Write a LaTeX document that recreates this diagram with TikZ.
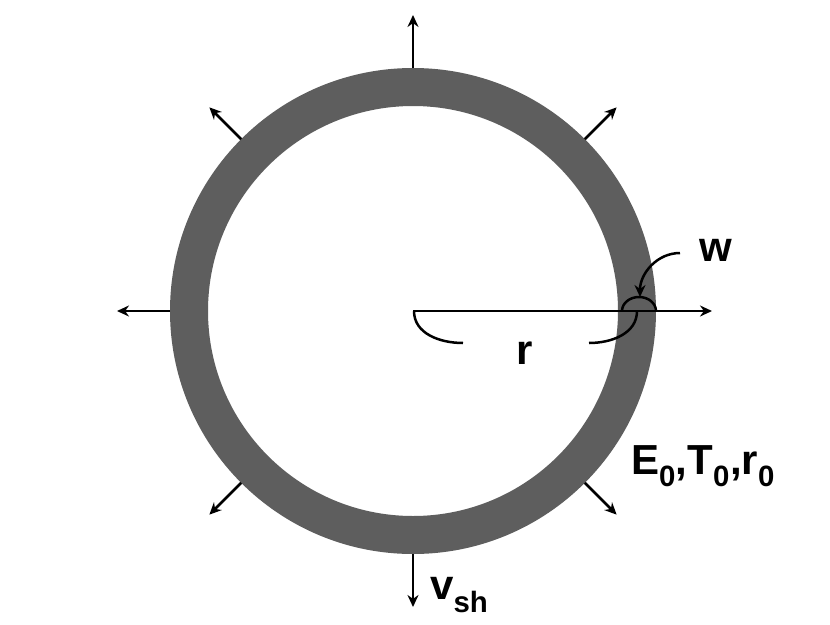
\documentclass[tikz,border=0pt]{standalone}
\usepackage{fontspec}
\setmainfont{Liberation Sans}
\usetikzlibrary{arrows.meta,calc}
\definecolor{ringgray}{HTML}{5E5E5E}
\tikzset{
  push/.style={line width=2.5pt, -{Stealth[length=12pt,width=11pt]}},
  lbl/.style={font=\bfseries\fontsize{42}{46}\selectfont, inner sep=0pt}
}
\begin{document}
\begin{tikzpicture}[x=1pt, y=-1pt]
  \useasboundingbox[fill=white] (0,0) rectangle (830,624);
  % ring
  \coordinate (c) at (413,311);
  \fill[ringgray, even odd rule] (c) circle (243) (c) circle (205);
  % outward arrows
  \foreach \a/\l in {90/53, 180/53, 45/45, 135/45, 225/45, 315/45, 270/53}{
    \draw[push] ($(c)+(\a:243)$) -- ($(c)+(\a:243+\l)$);
  }
  \draw[push] (c) -- (712,311);
  % radius brace
  \coordinate (b1) at (463,343);
  \coordinate (b2) at (589,343);
  \draw[line width=2.5pt] (414,311) to[out=-90,in=180] (b1);
  \draw[line width=2.5pt] (b2) to[out=0,in=-90] (637,311);
  % wall thickness
  \draw[line width=2.5pt] (622,311) arc[start angle=180, end angle=0, x radius=17, y radius=-14];
  \coordinate (wtail) at (680,253);
  \draw[line width=2.5pt, -{Stealth[length=12pt,width=11pt]}] (wtail) to[out=180,in=90] (640,297);
  % labels
  \node[lbl] (w) at (716,250) {w};
  \node[lbl] (r) at (525,353) {r};
  \node[lbl] (e) at (703,466) {E\textsubscript{0},T\textsubscript{0},r\textsubscript{0}};
  \node[lbl, anchor=west] (v) at (430,595) {v\textsubscript{sh}};
\end{tikzpicture}
\end{document}
